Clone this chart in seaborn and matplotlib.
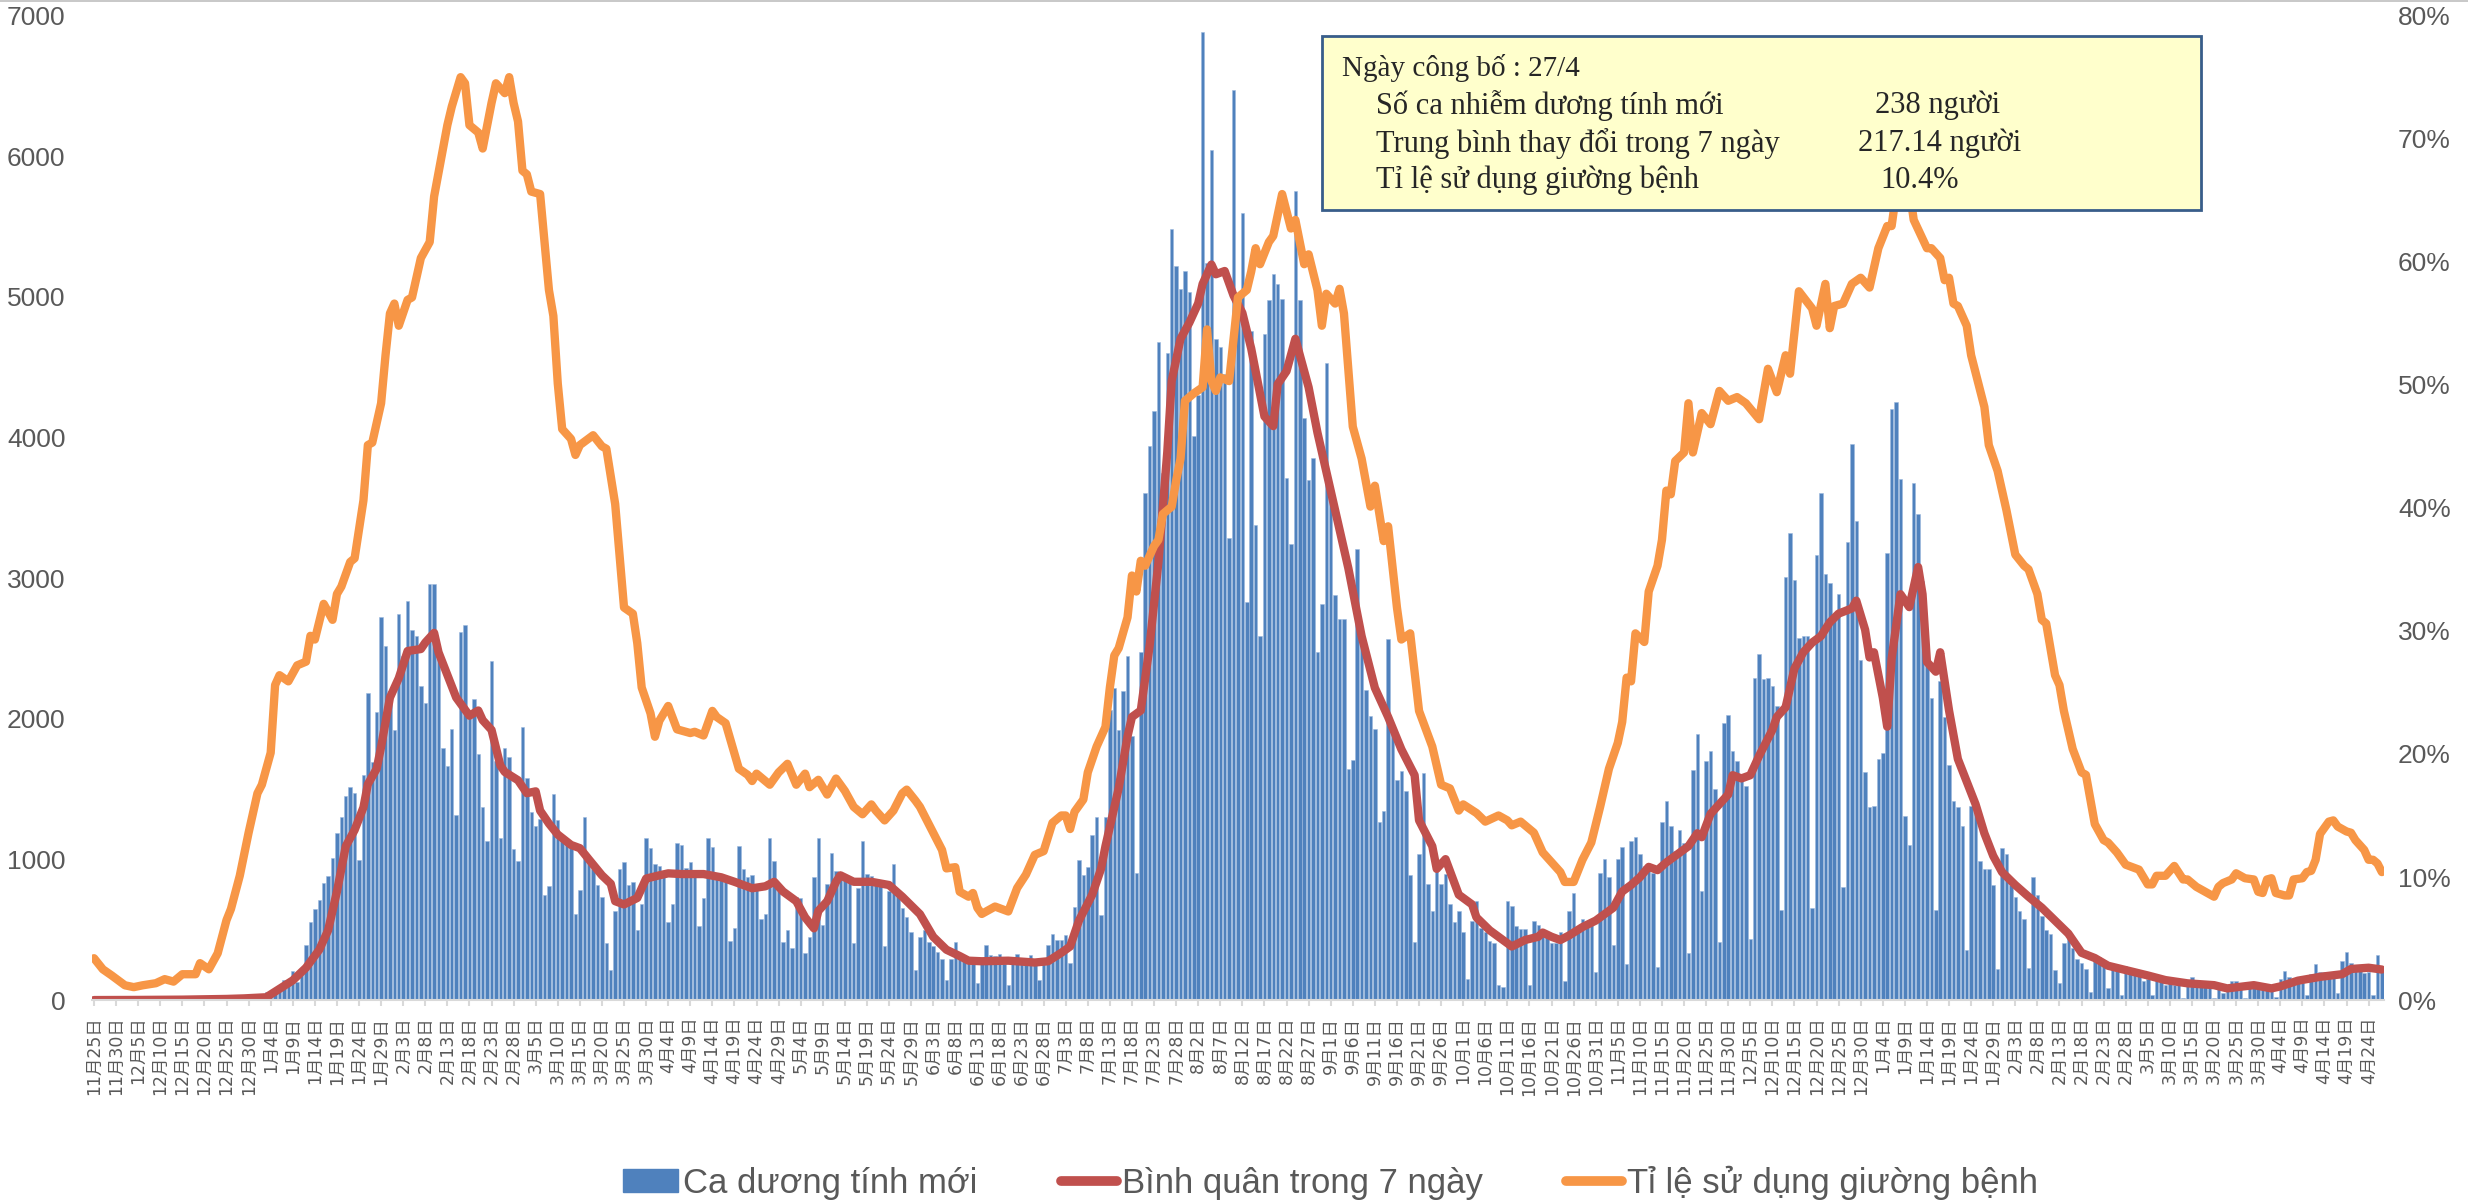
import numpy as np
import pandas as pd
import matplotlib
matplotlib.use("Agg")
import matplotlib.pyplot as plt
import seaborn as sns
from matplotlib.patches import Patch, Rectangle
from matplotlib.lines import Line2D
from matplotlib.ticker import PercentFormatter

# daily categories, 2020-11-25 .. 2022-04-27
dates = pd.date_range("2020-11-25", "2022-04-27", freq="D")

# new positive cases per day
new_cases = [
    0, 0, 1, 0, 0, 1, 0, 0, 0, 1,
    0, 1, 0, 0, 2, 1, 0, 1, 2, 1,
    2, 1, 3, 2, 4, 3, 5, 4, 6, 8,
    7, 9, 12, 10, 14, 18, 22, 30, 40, 55,
    60, 83, 106, 142, 152, 207, 130, 220, 395, 552,
    648, 712, 832, 880, 1011, 1186, 1300, 1448, 1517, 1471,
    993, 1600, 2183, 1691, 2050, 2725, 2519, 2200, 1921, 2748,
    2450, 2840, 2633, 2588, 2234, 2114, 2955, 2955, 2450, 1792,
    1664, 1930, 1314, 2620, 2666, 2013, 2142, 1751, 1370, 1131,
    2408, 1700, 1149, 1792, 1728, 1075, 988, 1940, 1581, 1337,
    1241, 1287, 749, 809, 1462, 1278, 1131, 1131, 1094, 611,
    781, 1301, 1002, 933, 818, 735, 404, 211, 634, 933,
    979, 818, 841, 496, 680, 1149, 1080, 970, 956, 887,
    552, 680, 1117, 1103, 942, 979, 887, 529, 726, 1149,
    1085, 887, 864, 841, 418, 510, 1094, 933, 878, 887,
    827, 575, 611, 1149, 988, 772, 414, 496, 368, 735,
    726, 335, 450, 873, 1154, 533, 827, 1048, 919, 901,
    878, 841, 404, 800, 1131, 896, 882, 827, 818, 381,
    772, 970, 772, 657, 588, 487, 211, 450, 496, 414,
    381, 345, 290, 142, 290, 414, 290, 276, 267, 267,
    119, 267, 395, 322, 313, 331, 257, 106, 267, 331,
    276, 267, 322, 257, 142, 267, 395, 473, 427, 427,
    460, 267, 662, 993, 887, 947, 1177, 1301, 602, 1301,
    2059, 2220, 1921, 2197, 2450, 1875, 901, 2473, 3608, 3943,
    4187, 4679, 3746, 4600, 5483, 5221, 5056, 5184, 5033, 4012,
    4300, 6885, 5239, 6044, 4702, 4642, 4449, 3286, 6471, 5000,
    5598, 2827, 4761, 3378, 2588, 4734, 4977, 5161, 5092, 4987,
    3713, 3240, 5750, 4977, 4136, 3700, 3851, 2473, 2817, 4527,
    3622, 2877, 2712, 2712, 1645, 1710, 3208, 2611, 2206, 2022,
    1930, 1264, 1347, 2565, 1898, 1567, 1632, 1484, 887, 414,
    1039, 1613, 827, 634, 933, 827, 896, 680, 552, 634,
    487, 152, 565, 703, 510, 483, 418, 404, 106, 92,
    703, 671, 529, 506, 506, 106, 565, 533, 506, 473,
    404, 404, 483, 138, 634, 758, 519, 579, 542, 565,
    198, 901, 1002, 873, 391, 1002, 1085, 253, 1131, 1163,
    1039, 956, 947, 901, 234, 1268, 1416, 1241, 1057, 1209,
    1117, 335, 1636, 1889, 772, 1700, 1774, 1498, 414, 1967,
    2027, 1774, 1700, 1590, 1521, 437, 2289, 2459, 2280, 2289,
    2234, 2091, 643, 3010, 3323, 2987, 2574, 2588, 2588, 657,
    3162, 3608, 3033, 2964, 2735, 2886, 804, 3254, 3953, 3410,
    2417, 1622, 1370, 1379, 1714, 1760, 3176, 4205, 4256, 3704,
    1310, 1103, 3677, 3456, 2978, 2417, 2151, 643, 2266, 2013,
    1668, 1416, 1370, 1241, 358, 1379, 1393, 988, 933, 933,
    818, 221, 1080, 1039, 818, 735, 634, 579, 230, 873,
    749, 598, 496, 473, 211, 119, 404, 473, 372, 290,
    267, 221, 60, 313, 303, 267, 83, 244, 239, 37,
    244, 230, 207, 207, 138, 147, 37, 175, 165, 106,
    138, 106, 106, 14, 106, 161, 106, 106, 106, 106,
    14, 119, 51, 106, 138, 138, 92, 14, 92, 129,
    83, 83, 106, 106, 23, 152, 207, 161, 129, 129,
    119, 37, 184, 253, 198, 198, 198, 198, 51, 280,
    345, 267, 250, 250, 190, 198, 37, 322, 238,
]

# 7-day average (day offset from 2020-11-25, value)
avg_day = [
    0, 10, 20, 30, 34, 39, 41, 45, 48, 51,
    53, 55, 57, 59, 61, 62, 64, 65, 67, 69,
    71, 74, 75, 77, 78, 80, 82, 85, 87, 88,
    90, 92, 93, 96, 98, 100, 101, 103, 105, 108,
    110, 112, 115, 117, 118, 120, 123, 125, 128, 130,
    133, 138, 142, 145, 149, 152, 154, 156, 159, 161,
    163, 164, 166, 168, 169, 172, 176, 180, 183, 187,
    190, 193, 196, 198, 201, 207, 213, 216, 219, 221,
    223, 226, 228, 229, 232, 234, 235, 237, 239, 241,
    243, 244, 246, 248, 250, 251, 253, 254, 256, 258,
    260, 262, 265, 267, 268, 270, 272, 275, 277, 278,
    281, 284, 287, 290, 293, 296, 299, 300, 303, 304,
    306, 309, 312, 313, 316, 319, 321, 324, 327, 328,
    330, 332, 334, 337, 340, 343, 344, 346, 348, 350,
    352, 354, 356, 358, 361, 363, 364, 366, 368, 370,
    371, 373, 375, 377, 380, 381, 383, 385, 387, 389,
    391, 393, 395, 398, 399, 401, 402, 403, 405, 406,
    407, 409, 411, 413, 414, 415, 417, 418, 420, 422,
    424, 426, 428, 430, 432, 435, 438, 441, 444, 447,
    450, 453, 456, 459, 462, 465, 469, 474, 480, 483,
    489, 493, 495, 499, 504, 509, 511, 515, 518,
]
avg_val = [
    0, 1, 3, 8, 12, 20, 60, 140, 230, 358,
    496, 772, 1094, 1209, 1370, 1535, 1645, 1800, 2151, 2289,
    2482, 2496, 2542, 2611, 2473, 2312, 2151, 2022, 2059, 1990,
    1921, 1668, 1622, 1563, 1471, 1484, 1347, 1255, 1177, 1103,
    1080, 1002, 887, 827, 703, 680, 726, 864, 887, 901,
    896, 896, 873, 841, 795, 809, 841, 772, 703, 588,
    510, 634, 703, 841, 887, 841, 841, 818, 735, 611,
    450, 358, 313, 280, 276, 280, 267, 276, 336, 381,
    565, 749, 933, 1094, 1507, 1875, 2013, 2059, 2519, 3116,
    3897, 4403, 4702, 4817, 4954, 5092, 5230, 5161, 5184, 5010,
    4886, 4633, 4150, 4081, 4380, 4472, 4702, 4357, 4035, 3897,
    3484, 3070, 2588, 2220, 2013, 1783, 1599, 1278, 1094, 933,
    1002, 749, 680, 588, 496, 427, 381, 427, 450, 480,
    450, 427, 460, 519, 565, 634, 657, 772, 818, 873,
    947, 924, 979, 1025, 1094, 1186, 1158, 1324, 1393, 1462,
    1599, 1576, 1599, 1737, 1921, 2013, 2082, 2358, 2473, 2542,
    2588, 2686, 2748, 2785, 2840, 2633, 2436, 2473, 2151, 1944,
    2427, 2886, 2794, 3079, 2886, 2404, 2335, 2473, 2059, 1714,
    1553, 1393, 1186, 1025, 910, 818, 735, 657, 565, 473,
    336, 299, 244, 221, 198, 175, 142, 119, 106, 83,
    106, 83, 97, 138, 165, 184, 221, 230, 217,
]

# hospital bed usage rate in % (day offset, value)
bed_day = [
    0, 2, 4, 7, 9, 11, 14, 16, 18, 20,
    23, 24, 26, 28, 30, 31, 33, 35, 37, 38,
    40, 41, 42, 44, 46, 48, 49, 50, 52, 54,
    55, 56, 58, 59, 61, 62, 63, 65, 66, 67,
    68, 69, 71, 72, 74, 76, 77, 80, 81, 83,
    84, 85, 87, 88, 90, 91, 93, 94, 95, 96,
    97, 98, 99, 101, 103, 104, 105, 106, 108, 109,
    110, 113, 115, 116, 118, 120, 122, 123, 124, 126,
    127, 128, 130, 132, 135, 136, 138, 140, 141, 143,
    146, 148, 149, 150, 153, 155, 157, 159, 161, 162,
    164, 166, 168, 170, 172, 174, 176, 177, 179, 181,
    183, 184, 186, 187, 190, 192, 193, 195, 196, 198,
    199, 200, 201, 204, 207, 209, 211, 213, 215, 217,
    219, 220, 221, 222, 224, 225, 227, 229, 230, 231,
    232, 234, 235, 236, 237, 238, 240, 241, 242, 244,
    245, 246, 247, 249, 251, 252, 253, 254, 255, 257,
    259, 261, 262, 263, 264, 266, 267, 269, 271, 272,
    274, 275, 277, 278, 279, 281, 282, 283, 285, 287,
    289, 290, 292, 293, 295, 296, 298, 300, 303, 305,
    307, 309, 310, 313, 315, 318, 320, 321, 323, 326,
    328, 330, 332, 333, 335, 337, 339, 341, 343, 345,
    346, 347, 348, 349, 351, 352, 354, 355, 356, 357,
    358, 360, 361, 362, 364, 366, 368, 370, 372, 374,
    377, 379, 381, 383, 384, 386, 389, 390, 392, 393,
    394, 396, 398, 400, 402, 404, 406, 407, 408, 409,
    411, 412, 415, 416, 418, 419, 420, 421, 422, 424,
    425, 428, 429, 431, 433, 435, 437, 438, 440, 441,
    442, 444, 445, 446, 448, 450, 451, 453, 455, 456,
    458, 460, 463, 465, 466, 467, 469, 471, 473, 474,
    476, 478, 479, 480, 481, 482, 484, 485, 487, 489,
    490, 491, 492, 493, 494, 496, 497, 498, 500, 501,
    502, 503, 504, 506, 507, 508, 510, 511, 512, 514,
    515, 516, 517, 518,
]
bed_pct = [
    3.4, 2.5, 2.0, 1.2, 1.05, 1.2, 1.37, 1.7, 1.5, 2.1,
    2.1, 3.0, 2.5, 3.8, 6.5, 7.4, 10.1, 13.6, 16.8, 17.5,
    20.1, 25.6, 26.4, 25.9, 27.2, 27.5, 29.6, 29.3, 32.2, 30.9,
    33.0, 33.6, 35.6, 35.9, 40.6, 45.1, 45.3, 48.5, 52.4, 55.8,
    56.6, 54.8, 56.9, 57.1, 60.3, 61.6, 65.3, 71.1, 72.6, 75.0,
    74.5, 71.1, 70.5, 69.2, 72.9, 74.5, 73.7, 75.0, 72.9, 71.4,
    67.4, 67.1, 65.7, 65.5, 57.7, 55.6, 50.1, 46.4, 45.6, 44.3,
    45.1, 45.9, 45.0, 44.8, 40.3, 31.9, 31.4, 29.0, 25.4, 23.3,
    21.4, 22.7, 23.9, 22.0, 21.7, 21.8, 21.5, 23.5, 23.0, 22.5,
    18.8, 18.3, 17.8, 18.4, 17.5, 18.5, 19.2, 17.5, 18.4, 17.3,
    17.9, 16.7, 18.0, 17.0, 15.7, 15.1, 15.9, 15.4, 14.6, 15.4,
    16.8, 17.1, 16.2, 15.7, 13.6, 12.2, 10.7, 10.8, 8.8, 8.4,
    8.7, 7.5, 7.0, 7.6, 7.2, 9.1, 10.2, 11.8, 12.1, 14.4,
    15.0, 15.0, 13.9, 15.3, 16.3, 18.5, 20.6, 22.2, 25.4, 28.0,
    28.6, 31.1, 34.5, 33.2, 35.7, 35.3, 36.9, 37.4, 39.5, 40.1,
    42.2, 44.0, 48.7, 49.3, 49.8, 54.5, 50.3, 49.5, 50.6, 50.3,
    57.1, 57.7, 59.2, 61.1, 59.8, 61.6, 62.1, 65.5, 62.7, 63.4,
    59.8, 60.6, 57.7, 54.8, 57.4, 56.6, 57.8, 55.8, 46.6, 44.0,
    40.1, 41.8, 37.3, 38.5, 31.9, 29.3, 29.8, 23.5, 20.6, 17.5,
    17.2, 15.4, 15.9, 15.2, 14.5, 15.0, 14.6, 14.2, 14.5, 13.6,
    12.0, 11.2, 10.4, 9.6, 9.6, 11.4, 12.8, 15.7, 18.8, 20.9,
    22.6, 26.2, 25.9, 29.8, 29.1, 33.2, 35.3, 37.4, 41.4, 41.1,
    43.8, 44.5, 48.5, 44.5, 47.7, 46.8, 49.5, 48.7, 49.0, 48.5,
    47.2, 51.3, 49.4, 52.4, 50.9, 57.6, 56.2, 54.8, 58.2, 54.6,
    56.4, 56.6, 58.2, 58.7, 57.9, 61.1, 62.9, 62.9, 65.5, 66.5,
    66.0, 63.4, 61.1, 61.1, 60.3, 58.5, 58.7, 56.6, 56.4, 54.8,
    52.4, 48.2, 45.1, 43.0, 39.8, 36.2, 35.3, 35.0, 33.0, 30.9,
    30.6, 26.4, 25.6, 23.5, 20.4, 18.5, 18.3, 14.3, 13.0, 12.8,
    12.0, 11.0, 10.6, 9.4, 9.4, 10.1, 10.1, 10.9, 9.8, 9.8,
    9.2, 8.8, 8.6, 8.4, 9.2, 9.5, 9.8, 10.3, 9.9, 9.8,
    8.8, 8.7, 9.8, 9.9, 8.7, 8.5, 8.5, 9.8, 9.9, 10.4,
    10.5, 11.4, 13.5, 14.5, 14.6, 14.1, 13.7, 13.6, 13.0, 12.2,
    11.4, 11.4, 11.1, 10.4,
]

assert len(new_cases) == len(dates)
assert len(avg_day) == len(avg_val)
assert len(bed_day) == len(bed_pct)

BLUE = "#4F81BD"
RED = "#C0504D"
ORANGE = "#F79646"
GREY = "#595959"

sns.set_theme(style="white")
plt.rcParams["font.family"] = ["Liberation Sans", "DejaVu Sans"]

fig = plt.figure(figsize=(24.68, 12.02), dpi=100)
ax = fig.add_axes([0.0372, 0.168, 0.9288, 0.819])

df = pd.DataFrame({"day": np.arange(len(dates)), "cases": new_cases})
sns.barplot(data=df, x="day", y="cases", color=BLUE, saturation=1, width=0.78,
            errorbar=None, edgecolor="#9DB9DE", linewidth=0.4, ax=ax)
sns.lineplot(x=avg_day, y=avg_val, color=RED, linewidth=6, ax=ax)

ax2 = ax.twinx()
sns.lineplot(x=bed_day, y=bed_pct, color=ORANGE, linewidth=6, ax=ax2)

# axes cosmetics
tick_pos = np.arange(0, len(dates), 5)
ax.set_xticks(tick_pos)
ax.set_xticklabels([f"{d.month}月{d.day}日" for d in dates[tick_pos]], rotation=90,
                   fontsize=12.5, color=GREY, family=["DejaVu Sans", "Noto Sans CJK JP"])
ax.set_xlim(-0.5, len(dates) - 0.5)
ax.set_ylim(0, 7000)
ax.set_yticks(range(0, 7001, 1000))
ax.set_xlabel("")
ax.set_ylabel("")
ax.tick_params(axis="x", length=4, width=1.5, color="#D9D9D9", pad=8, bottom=True)
ax.tick_params(axis="y", length=0, pad=19, labelsize=19, labelcolor=GREY)

ax2.set_ylim(0, 80)
ax2.set_yticks(range(0, 81, 10))
ax2.yaxis.set_major_formatter(PercentFormatter(decimals=0))
ax2.set_ylabel("")
ax2.tick_params(axis="y", length=0, pad=10, labelsize=19, labelcolor=GREY)

for s in ["top", "left", "right"]:
    ax.spines[s].set_visible(False)
for s in ax2.spines.values():
    s.set_visible(False)
ax.spines["bottom"].set_color("#D9D9D9")
ax.spines["bottom"].set_linewidth(1.5)

# top frame line
fig.add_artist(Line2D([0, 1], [0.999, 0.999], color="#BFBFBF", lw=1.2))

# info box
fig.add_artist(Rectangle((0.5357, 0.8253), 0.3562, 0.1448, transform=fig.transFigure,
                         facecolor="#FFFFCC", edgecolor="#385D8A", lw=2, zorder=5))
serif = ["Liberation Serif", "DejaVu Serif"]
fig.text(0.5438, 0.9434, "Ngày công bố : 27/4", family=serif, fontsize=21, va="center", zorder=6)
fig.text(0.5575, 0.9126, "Số ca nhiễm dương tính mới", family=serif, fontsize=22, va="center", zorder=6)
fig.text(0.5575, 0.8810, "Trung bình thay đổi trong 7 ngày", family=serif, fontsize=22, va="center", zorder=6)
fig.text(0.5575, 0.8502, "Tỉ lệ sử dụng giường bệnh", family=serif, fontsize=22, va="center", zorder=6)
fig.text(0.7597, 0.9126, "238 người", family=serif, fontsize=22, va="center", zorder=6)
fig.text(0.7528, 0.8810, "217.14 người", family=serif, fontsize=22, va="center", zorder=6)
fig.text(0.7620, 0.8502, "10.4%", family=serif, fontsize=22, va="center", zorder=6)

# legend at the bottom
handles = [Patch(facecolor=BLUE, edgecolor=BLUE),
           Line2D([], [], color=RED, lw=7),
           Line2D([], [], color=ORANGE, lw=7)]
labels = ["Ca dương tính mới", "Bình quân trong 7 ngày", "Tỉ lệ sử dụng giường bệnh"]
fig.legend(handles, labels, loc="center", bbox_to_anchor=(0.539, 0.016), ncol=3,
           frameon=False, fontsize=25, handlelength=1.6, handleheight=0.65,
           columnspacing=2.4, handletextpad=0.15, labelcolor=GREY)

fig.savefig("out.png", dpi=100)
